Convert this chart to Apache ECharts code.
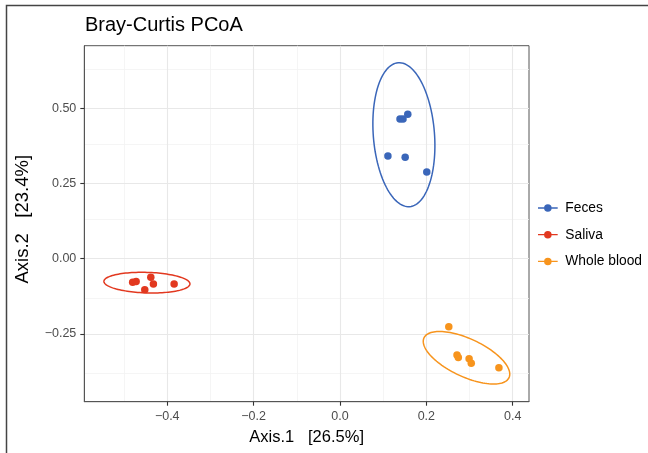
<!DOCTYPE html>
<html><head><meta charset="utf-8">
<script src="https://cdn.jsdelivr.net/npm/echarts@6/dist/echarts.min.js"></script>
<style>html,body{margin:0;padding:0;background:#fff}#c{width:648px;height:453px}</style>
</head><body><div id="c"></div>
<script>
// ---- data ----
const groups = ['Feces', 'Saliva', 'Whole blood'];
const fecesX = [0.157, 0.139, 0.146, 0.111, 0.151, 0.201];
const fecesY = [0.480, 0.464, 0.464, 0.341, 0.337, 0.288];
const salivaX = [-0.480, -0.472, -0.438, -0.432, -0.452, -0.384];
const salivaY = [-0.078, -0.076, -0.062, -0.084, -0.103, -0.084];
const bloodX = [0.252, 0.271, 0.274, 0.299, 0.304, 0.368];
const bloodY = [-0.226, -0.320, -0.328, -0.332, -0.347, -0.362];
// ellipse: [centerX, centerY, halfAxis1X, halfAxis1Y, halfAxis2X, halfAxis2Y] (data units)
const fecesEllipse = [0.148, 0.412, -0.0132, 0.239, 0.0706, 0.0080];
const salivaEllipse = [-0.447, -0.0795, 0.0996, -0.0043, 0.0006, 0.0341];
const bloodEllipse = [0.293, -0.329, 0.0984, -0.0662, 0.0187, 0.0569];
const xTicks = [-0.4, -0.2, 0.0, 0.2, 0.4];
const yTicks = [-0.25, 0.00, 0.25, 0.50];
const xMinor = [-0.5, -0.3, -0.1, 0.1, 0.3];
const yMinor = [-0.375, -0.125, 0.125, 0.375, 0.625];
const xRange = [-0.592, 0.4377];
const yRange = [-0.475, 0.7076];
const title = 'Bray-Curtis PCoA';
const xName = 'Axis.1   [26.5%]';
const yName = 'Axis.2   [23.4%]';

// ---- styles ----
const colors = ['#3A66B9', '#E2381F', '#F7941D'];
const FONT = '"Liberation Sans", Arial, Helvetica, sans-serif';
const zip = (xs, ys) => xs.map((x, i) => [x, ys[i]]);
const pointSets = [zip(fecesX, fecesY), zip(salivaX, salivaY), zip(bloodX, bloodY)];
const ellipses = [fecesEllipse, salivaEllipse, bloodEllipse];
const fmtMinus = (s) => s.replace('-', '\u2212');

function ellipseRender(params, api) {
  const p = [api.value(0), api.value(1), api.value(2), api.value(3), api.value(4), api.value(5)];
  const pts = [];
  const N = 120;
  for (let k = 0; k < N; k++) {
    const t = 2 * Math.PI * k / N;
    pts.push(api.coord([p[0] + p[2] * Math.cos(t) + p[4] * Math.sin(t),
                        p[1] + p[3] * Math.cos(t) + p[5] * Math.sin(t)]));
  }
  return {
    type: 'polygon',
    shape: { points: pts },
    style: { fill: 'none', stroke: api.visual('color'), lineWidth: 1.5 }
  };
}

const gridLineData = []
  .concat(xMinor.map(v => ({ xAxis: v, lineStyle: { color: '#f2f2f2', width: 0.8 } })))
  .concat(yMinor.map(v => ({ yAxis: v, lineStyle: { color: '#f2f2f2', width: 0.8 } })))
  .concat(xTicks.map(v => ({ xAxis: v, lineStyle: { color: '#e8e8e8', width: 1.1 } })))
  .concat(yTicks.map(v => ({ yAxis: v, lineStyle: { color: '#e8e8e8', width: 1.1 } })));

const series = [{
  type: 'scatter', name: '__grid', data: [], silent: true, z: 0,
  markLine: {
    silent: true, symbol: 'none', label: { show: false }, animation: false, z: 0,
    lineStyle: { type: 'solid' },
    data: gridLineData
  }
}];
groups.forEach((g, i) => {
  series.push({
    type: 'custom', name: g, renderItem: ellipseRender, data: [ellipses[i]],
    itemStyle: { color: colors[i] }, z: 9, silent: true, animation: false,
    encode: { x: [0], y: [1] }
  });
});
groups.forEach((g, i) => {
  series.push({
    type: 'scatter', name: g, data: pointSets[i], symbolSize: 7.5,
    itemStyle: { color: colors[i], opacity: 1 }, z: 10, animation: false
  });
});

const legendIcon = 'path://M0,3.3 L21,3.3 L21,4.7 L0,4.7 Z M14.5,4 A3.75,3.75 0 1 1 6.5,4 A3.75,3.75 0 1 1 14.5,4 Z';

const chart = echarts.init(document.getElementById('c'), null, { renderer: 'canvas' });
chart.setOption({
  animation: false,
  backgroundColor: '#ffffff',
  color: colors,
  textStyle: { fontFamily: FONT },
  title: {
    text: title, left: 85, top: 15.5, padding: 0,
    textStyle: { fontFamily: FONT, fontSize: 20, fontWeight: 'normal', color: '#000' }
  },
  legend: {
    orient: 'vertical', left: 538, top: 200, itemGap: 10.7, padding: 0,
    itemWidth: 21, itemHeight: 7.5,
    data: groups.map(g => ({ name: g, icon: legendIcon })),
    textStyle: { fontFamily: FONT, fontSize: 13.8, color: '#000', lineHeight: 16, padding: [0, 0, 0, 2] }
  },
  grid: {
    left: 84.3, top: 45.7, right: 119, bottom: 51.3,
    show: true, backgroundColor: '#fff', borderColor: '#555', borderWidth: 1
  },
  xAxis: {
    type: 'value', min: xRange[0], max: xRange[1],
    name: xName, nameLocation: 'middle', nameGap: 27,
    nameTextStyle: { fontFamily: FONT, fontSize: 16.5, color: '#000' },
    axisLine: { show: true, onZero: false, lineStyle: { color: '#555', width: 1 } },
    axisTick: { show: true, length: 4, customValues: xTicks, lineStyle: { color: '#333', width: 1.1 } },
    axisLabel: {
      customValues: xTicks, margin: 8, fontSize: 12.5, color: '#4d4d4d', fontFamily: FONT,
      formatter: v => fmtMinus(Number(v).toFixed(1))
    },
    splitLine: { show: false }
  },
  yAxis: {
    type: 'value', min: yRange[0], max: yRange[1],
    name: yName, nameLocation: 'middle', nameGap: 52, nameRotate: 90,
    nameTextStyle: { fontFamily: FONT, fontSize: 18.5, color: '#000', padding: [0, 0, 0, 9] },
    axisLine: { show: true, onZero: false, lineStyle: { color: '#555', width: 1 } },
    axisTick: { show: true, length: 4, customValues: yTicks, lineStyle: { color: '#333', width: 1.1 } },
    axisLabel: {
      customValues: yTicks, margin: 8, fontSize: 12.5, color: '#4d4d4d', fontFamily: FONT,
      formatter: v => fmtMinus(Number(v).toFixed(2))
    },
    splitLine: { show: false }
  },
  graphic: [{
    type: 'rect', silent: true, z: 100,
    shape: { x: 6.5, y: 5.5, width: 700, height: 500 },
    style: { fill: 'none', stroke: '#444', lineWidth: 1.5 }
  }],
  series: series
});
</script>
</body></html>
